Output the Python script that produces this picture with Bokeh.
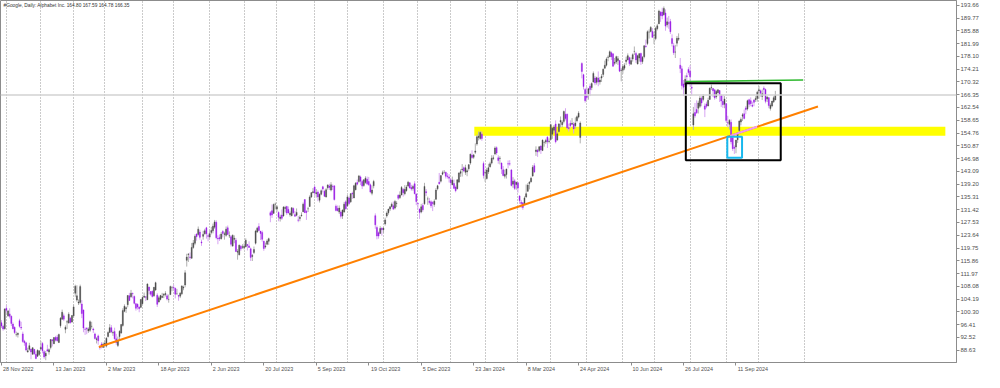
from bokeh.plotting import figure
from bokeh.models import ColumnDataSource, FixedTicker, Range1d, Span, Label, NumeralTickFormatter, LinearAxis
from bokeh.embed import file_html
from bokeh.resources import INLINE

# ---------------- data (daily bars, #Google) ----------------
opens = [
    97.0, 95.9, 95.2,  # Nov 22
    101.4, 99.1, 99.7, 99.0, 96.6, 95.6, 93.4, 93.4, 97.6, 95.6, 93.6, 91.4, 90.9, 88.1, 88.9, 89.0, 87.4, 88.9, 87.4, 86.8, 87.3,
    89.0, 90.7, 88.2, 86.9, 88.8, 88.1, 89.5, 91.8, 90.6, 92.5, 92.6, 91.0, 96.1, 98.1, 99.1, 95.0, 97.2, 96.9, 98.4, 97.2,
    99.1, 106.0, 103.9, 103.0, 103.2, 102.7, 100.9, 95.1, 95.3, 94.5, 94.7, 95.9, 95.1, 93.6, 91.9, 93.0, 89.8, 90.5, 89.5,
    90.3, 89.9, 92.8, 94.0, 95.5, 93.9, 94.3, 92.1, 90.1, 92.8, 93.9, 96.2, 100.5, 101.3, 102.5, 105.2, 104.9, 105.9, 105.0, 102.8, 102.6, 101.8, 101.7,
    102.8, 104.8, 104.9, 104.0, 107.9, 106.5, 106.6, 105.2, 107.0, 105.4, 103.3, 104.1, 104.7, 105.4, 105.6, 105.2, 104.1, 105.6, 107.7,
    107.7, 107.5, 105.8, 105.3, 105.1, 105.8, 107.6, 108.5, 116.0, 117.8, 117.0, 116.6, 119.9, 121.2, 124.0, 123.9, 124.6, 121.6, 123.3, 124.1, 125.9, 123.5,
    123.1, 124.5, 125.0, 126.1, 127.6, 122.7, 122.9, 122.6, 124.8, 123.9, 123.6, 125.9, 123.4, 123.2, 120.4, 122.4, 122.1, 118.5, 117.7, 120.3, 120.0,
    119.8, 120.1, 120.8, 120.4, 119.5, 117.2, 118.4, 121.2, 124.6, 126.3, 124.9, 124.5, 121.8, 120.1, 120.9, 121.8, 130.5, 131.1, 130.3, 133.1,
    131.6, 130.6, 128.7, 129.8, 129.5, 131.8, 132.4, 131.5, 129.9, 129.6, 131.8, 129.9, 129.7, 128.3, 128.7, 129.6, 130.8, 134.5, 130.9, 131.7, 132.4, 135.3, 136.6,
    138.3, 136.3, 136.8, 134.3, 136.1, 138.4, 137.0, 135.3, 138.1, 138.6, 137.4, 138.5, 138.7, 132.5, 131.8, 130.7, 130.7, 129.5, 130.7, 133.8,
    132.6, 135.0, 133.8, 136.4, 135.0, 137.5, 139.7, 140.0, 141.4, 140.0, 138.8, 139.7, 140.7, 140.0, 139.0, 136.4, 138.7, 129.6, 126.0, 124.4, 124.2, 125.8,
    125.3, 127.1, 129.5, 130.5, 131.6, 132.4, 132.6, 131.9, 133.3, 135.8, 135.1, 135.9, 137.6, 136.3, 137.2, 138.6, 139.6, 138.2, 137.9, 139.3, 136.2,
    133.3, 131.6, 130.7, 132.7, 133.2, 136.9, 134.7, 134.0, 133.8, 133.6, 133.0, 134.6, 137.8, 139.8, 140.1, 142.2, 142.8, 142.8, 141.7, 141.4,
    140.5, 139.0, 139.4, 138.3, 137.8, 139.8, 142.5, 143.6, 144.2, 142.8, 142.9, 143.9, 145.6, 148.0, 147.4, 148.9, 151.4, 153.4, 153.1, 154.4, 145.5,
    142.6, 140.9, 143.0, 144.5, 145.6, 147.0, 148.4, 150.3, 147.2, 147.0, 145.6, 143.6, 141.6, 142.1, 145.4, 145.4, 143.5, 139.2, 140.2, 139.1,
    139.6, 135.6, 133.7, 133.5, 133.3, 135.3, 137.0, 139.4, 139.9, 141.7, 144.8, 149.1, 149.5, 149.4, 150.8, 149.4, 151.9, 152.0, 153.5, 152.2,
    152.8, 154.4, 155.6, 157.5, 152.6, 155.2, 158.1, 157.3, 158.3, 160.5, 160.5, 156.4, 157.7, 157.4, 157.5, 157.0, 158.5, 159.6, 153.4, 175.9, 172.5, 168.0,
    166.2, 166.7, 169.0, 168.6, 170.3, 171.5, 170.2, 171.5, 170.3, 171.5, 172.6, 174.5, 175.4, 177.8, 177.9, 179.2, 178.9, 176.0, 176.4, 176.8, 176.8, 173.8,
    173.9, 174.5, 176.5, 177.0, 177.7, 175.7, 177.3, 179.6, 179.0, 175.8, 177.6, 179.0, 176.5, 178.0, 181.2, 182.0, 185.5, 185.7, 185.7,
    184.5, 183.5, 186.5, 188.0, 191.5, 191.6, 190.8, 191.3, 187.7, 188.3, 188.7, 183.5, 181.3, 179.4, 182.1, 183.3, 175.4, 174.3, 169.7, 169.5, 172.2, 174.1,
    173.6, 168.7, 157.2, 161.0, 161.9, 162.3, 162.9, 165.3, 165.0, 163.0, 163.6, 163.0, 165.0, 168.6, 168.3, 167.9, 165.8, 167.0, 167.7, 166.2, 164.4, 163.5,
    163.7, 157.9, 157.4, 158.0, 153.3, 150.4, 150.5, 152.7, 155.5, 158.1, 159.9, 160.6, 162.4, 162.1, 164.9, 164.6, 163.2, 164.8, 164.9, 165.3,
    167.6, 167.6, 165.9, 168.4, 168.0, 165.1, 165.5, 162.2, 163.0, 164.3, 164.80,
]
highs = [
    97.8, 96.4, 101.4,
    102.3, 100.9, 101.4, 99.2, 97.1, 95.9, 94.3, 94.0, 98.2, 97.3, 94.3, 91.8, 91.2, 89.4, 90.9, 89.1, 89.5, 89.0, 88.3, 88.9, 88.5,
    91.4, 91.1, 88.7, 88.4, 90.3, 89.2, 92.0, 92.0, 92.6, 93.0, 93.3, 93.7, 98.7, 101.0, 99.8, 96.2, 97.8, 100.2, 98.7, 99.3,
    102.6, 108.6, 108.4, 104.1, 108.6, 103.9, 101.0, 95.6, 95.7, 95.6, 97.7, 97.3, 95.5, 94.0, 92.6, 93.4, 90.0, 91.1, 91.0,
    91.4, 92.6, 94.4, 96.6, 96.3, 94.6, 95.5, 93.6, 92.8, 94.7, 96.5, 101.4, 102.6, 102.0, 105.4, 106.1, 107.0, 106.2, 105.3, 103.0, 102.9, 101.9, 104.2,
    104.8, 106.2, 105.0, 109.0, 107.9, 106.6, 106.8, 107.9, 109.5, 106.0, 105.2, 105.5, 106.1, 106.0, 106.6, 105.8, 105.6, 108.3, 108.2,
    108.6, 107.7, 107.3, 105.5, 106.3, 108.4, 108.3, 113.0, 118.0, 118.2, 118.4, 121.3, 122.2, 123.9, 124.2, 126.3, 125.3, 122.3, 125.0, 125.6, 126.2, 124.2,
    125.0, 126.2, 127.2, 128.3, 128.2, 123.6, 123.9, 124.6, 125.2, 124.7, 126.3, 126.6, 124.8, 123.7, 123.9, 123.6, 122.8, 119.4, 120.8, 120.7, 120.9,
    121.2, 122.7, 121.0, 121.8, 119.9, 117.9, 120.2, 125.3, 126.2, 127.3, 124.9, 125.1, 122.0, 121.4, 122.4, 122.9, 131.0, 133.0, 133.3, 133.6,
    132.8, 130.9, 129.9, 131.5, 132.5, 132.6, 132.6, 132.4, 130.9, 132.1, 132.1, 131.0, 131.8, 129.5, 129.7, 130.6, 133.6, 134.6, 131.3, 132.3, 135.8, 136.8, 138.0,
    138.8, 137.7, 137.3, 136.4, 137.6, 138.7, 137.5, 138.0, 139.2, 139.3, 139.8, 139.1, 138.7, 133.0, 132.7, 132.7, 131.2, 131.5, 133.8, 134.3,
    135.9, 135.5, 136.5, 136.9, 139.0, 139.8, 140.6, 142.0, 141.8, 140.5, 140.7, 141.6, 141.5, 141.4, 139.4, 138.8, 140.5, 130.3, 126.6, 124.8, 126.4, 126.0,
    126.1, 129.0, 130.9, 131.7, 132.5, 133.6, 133.9, 134.4, 134.0, 136.1, 137.0, 138.6, 138.0, 138.9, 138.9, 140.2, 139.8, 139.0, 139.0, 140.1, 136.4,
    133.6, 131.8, 133.2, 133.4, 139.6, 137.7, 135.4, 135.0, 134.3, 134.0, 134.6, 138.0, 139.0, 142.6, 141.9, 143.3, 143.5, 143.0, 142.6, 142.3,
    141.1, 141.5, 140.6, 138.8, 140.7, 142.8, 143.7, 145.3, 144.6, 145.1, 143.9, 145.3, 148.5, 149.5, 148.4, 151.6, 154.3, 155.2, 155.4, 155.2, 146.1,
    143.3, 144.2, 145.4, 146.0, 148.0, 148.0, 150.7, 150.7, 148.0, 147.7, 145.8, 144.7, 143.6, 143.9, 146.4, 146.5, 143.8, 141.3, 140.8, 139.9,
    139.8, 135.8, 134.4, 133.7, 135.5, 139.1, 139.5, 140.1, 141.5, 145.0, 145.6, 150.7, 149.9, 150.7, 151.0, 152.8, 152.2, 153.0, 153.8, 153.1,
    157.6, 156.6, 157.2, 158.6, 155.0, 157.8, 159.8, 158.6, 161.6, 162.3, 160.7, 157.6, 158.6, 159.3, 158.1, 159.5, 160.1, 161.4, 158.3, 176.3, 172.8, 168.5,
    168.8, 168.5, 169.8, 170.2, 173.5, 172.1, 171.9, 173.5, 171.8, 172.7, 174.4, 176.8, 177.8, 178.4, 179.9, 179.6, 178.9, 177.6, 178.3, 178.2, 176.9, 174.5,
    175.7, 176.0, 178.0, 179.0, 178.0, 177.8, 179.0, 181.1, 179.5, 178.6, 179.1, 179.2, 178.2, 181.5, 183.2, 186.0, 186.3, 187.3, 186.7,
    185.6, 187.1, 188.0, 192.3, 191.9, 192.9, 193.3, 192.4, 189.9, 190.4, 189.5, 184.8, 182.2, 181.6, 184.3, 185.1, 177.6, 175.2, 170.9, 172.3, 173.1, 174.8,
    175.4, 170.0, 162.7, 163.9, 164.7, 164.6, 166.0, 165.9, 166.6, 163.8, 164.3, 165.5, 168.6, 169.5, 168.5, 168.0, 167.9, 168.1, 167.8, 166.5, 166.4, 166.0,
    163.9, 160.0, 159.0, 158.9, 153.8, 151.0, 152.7, 155.0, 158.6, 159.5, 160.8, 161.9, 163.0, 164.9, 165.2, 165.6, 164.3, 165.1, 166.0, 167.6,
    169.1, 168.0, 168.0, 169.0, 168.3, 166.0, 165.7, 163.8, 164.5, 166.0, 167.59,
]
lows = [
    95.4, 94.6, 94.9,
    100.0, 98.8, 98.3, 96.0, 95.0, 93.6, 92.8, 92.5, 95.5, 94.8, 90.9, 90.0, 88.3, 87.9, 88.5, 85.9, 87.3, 87.2, 85.9, 86.6, 86.9,
    88.7, 87.7, 86.0, 85.6, 88.2, 87.3, 88.9, 89.8, 90.5, 91.3, 91.3, 90.8, 95.5, 97.9, 97.5, 93.8, 95.1, 96.8, 96.7, 97.1,
    98.5, 104.9, 103.4, 102.4, 102.6, 98.4, 94.1, 93.3, 93.5, 93.9, 94.2, 95.2, 93.9, 91.9, 90.7, 90.3, 88.8, 89.2, 89.4,
    89.6, 89.5, 92.5, 94.0, 93.8, 93.0, 91.9, 90.3, 89.6, 91.9, 93.6, 95.8, 100.2, 100.0, 101.7, 103.6, 104.6, 104.4, 102.6, 100.7, 101.0, 100.2, 101.5,
    102.5, 104.5, 103.6, 103.9, 105.6, 105.2, 104.7, 104.9, 106.7, 101.8, 103.2, 103.8, 104.5, 104.5, 105.0, 103.8, 103.1, 105.4, 106.6,
    107.0, 104.4, 105.6, 103.7, 104.5, 105.5, 106.9, 107.8, 114.1, 115.5, 116.2, 116.6, 119.5, 120.6, 122.0, 123.5, 122.3, 120.4, 122.3, 123.8, 122.6, 121.8,
    122.7, 123.9, 124.2, 125.6, 122.4, 120.9, 121.9, 122.3, 123.0, 122.3, 123.2, 123.8, 122.8, 120.2, 120.1, 121.2, 118.5, 116.2, 117.5, 118.9, 119.5,
    119.3, 120.0, 119.0, 119.8, 115.8, 115.8, 117.9, 120.8, 124.4, 124.9, 122.2, 121.7, 118.9, 119.6, 120.6, 120.7, 127.6, 128.9, 130.2, 131.5,
    130.8, 127.9, 127.8, 128.3, 129.3, 130.6, 129.8, 130.3, 129.3, 129.4, 130.0, 129.3, 129.4, 127.6, 127.9, 129.3, 130.7, 130.4, 128.3, 130.7, 132.3, 135.0, 136.4,
    135.6, 135.1, 134.0, 133.6, 135.8, 136.7, 135.3, 135.1, 137.5, 137.4, 137.0, 137.4, 134.2, 130.9, 130.9, 130.1, 128.7, 128.6, 130.5, 131.4,
    132.3, 132.8, 133.5, 134.7, 134.9, 137.3, 138.8, 139.6, 138.9, 137.7, 138.4, 139.3, 138.9, 138.7, 136.4, 135.8, 137.9, 125.6, 122.4, 122.6, 124.0, 123.5,
    124.3, 126.6, 129.0, 129.9, 131.0, 132.1, 131.3, 131.5, 132.2, 134.4, 134.7, 135.8, 135.4, 135.8, 136.9, 138.4, 137.9, 137.2, 137.2, 136.1, 132.8,
    131.7, 128.6, 130.3, 130.8, 132.9, 135.6, 132.9, 133.0, 131.9, 131.0, 132.3, 134.4, 137.3, 139.1, 139.7, 141.9, 142.4, 140.9, 140.9, 139.7,
    137.7, 138.9, 137.9, 136.7, 137.6, 139.8, 141.4, 141.5, 142.8, 142.0, 141.6, 143.3, 145.1, 146.9, 146.9, 148.4, 150.9, 152.5, 152.7, 152.4, 140.9,
    139.9, 140.6, 142.3, 144.2, 145.2, 146.5, 148.0, 148.1, 145.4, 145.2, 142.3, 141.6, 140.9, 140.9, 144.0, 144.8, 138.5, 138.1, 137.4, 137.5,
    136.6, 133.2, 131.9, 131.4, 132.9, 135.0, 136.9, 137.6, 139.7, 141.4, 142.6, 147.8, 147.5, 148.9, 148.4, 149.3, 150.6, 151.4, 150.2, 151.6,
    152.6, 153.0, 154.8, 151.6, 152.5, 154.9, 156.4, 156.5, 157.7, 158.6, 155.8, 155.2, 156.3, 157.3, 154.6, 156.1, 158.0, 159.2, 151.6, 171.4, 168.0, 164.0,
    164.8, 164.9, 166.0, 167.8, 170.1, 169.3, 169.5, 169.0, 169.5, 170.3, 171.8, 174.3, 175.0, 176.6, 177.9, 177.0, 174.9, 175.4, 175.8, 175.5, 173.3, 170.5,
    172.8, 173.9, 175.5, 176.9, 175.2, 175.6, 176.5, 178.5, 176.1, 175.6, 176.5, 175.5, 175.8, 177.5, 180.8, 181.5, 183.5, 185.4, 183.7,
    181.8, 183.0, 186.0, 187.9, 188.6, 189.4, 190.5, 185.9, 186.9, 186.5, 184.9, 181.1, 178.5, 177.6, 181.1, 182.8, 173.0, 168.0, 166.0, 168.8, 169.0, 172.5,
    168.9, 166.2, 155.7, 159.4, 160.6, 160.7, 162.4, 162.9, 164.4, 159.6, 162.3, 162.9, 164.8, 167.9, 165.7, 164.9, 165.2, 166.9, 164.2, 162.7, 162.4, 162.3,
    158.0, 156.5, 155.8, 151.3, 149.3, 148.4, 148.6, 151.7, 155.1, 157.1, 158.4, 158.9, 160.5, 161.6, 162.6, 162.9, 162.6, 162.9, 164.2, 164.3,
    165.2, 165.8, 164.8, 166.3, 163.8, 164.2, 162.3, 161.6, 162.6, 163.9, 164.78,
]
closes = [
    96.0, 95.1, 101.2,
    100.8, 100.6, 99.0, 96.8, 95.2, 94.0, 93.4, 93.8, 95.9, 95.4, 91.3, 90.9, 88.7, 88.5, 90.0, 88.1, 89.4, 87.6, 86.1, 88.6, 88.5,
    89.5, 88.5, 86.6, 87.7, 88.4, 88.8, 91.9, 91.5, 92.5, 91.7, 91.5, 93.4, 98.4, 100.2, 98.1, 95.6, 97.3, 99.6, 97.1, 99.2,
    101.8, 108.1, 105.2, 103.3, 108.0, 99.8, 95.4, 95.0, 95.1, 95.1, 97.3, 95.9, 94.8, 92.2, 92.1, 91.5, 89.4, 89.8, 90.5,
    90.8, 92.3, 94.0, 95.5, 94.2, 94.0, 92.1, 91.0, 91.5, 94.4, 96.5, 100.7, 102.0, 101.6, 105.3, 103.8, 106.0, 105.8, 102.9, 101.4, 101.8, 101.3, 104.1,
    104.7, 105.1, 104.8, 108.8, 106.8, 105.7, 105.0, 107.8, 109.2, 102.6, 104.6, 105.3, 105.1, 105.7, 105.9, 104.2, 104.1, 108.0, 107.7,
    107.6, 105.7, 105.8, 105.1, 106.0, 108.2, 107.8, 112.2, 117.0, 117.9, 116.9, 119.9, 121.3, 123.3, 123.2, 125.5, 123.0, 121.3, 123.9, 125.0, 124.1, 123.3,
    124.1, 125.1, 126.4, 127.7, 122.9, 122.5, 122.6, 124.0, 124.2, 124.1, 125.5, 123.9, 123.5, 120.9, 123.6, 122.7, 118.7, 118.7, 120.6, 119.5, 120.1,
    120.3, 122.1, 120.5, 119.9, 116.9, 117.5, 119.3, 124.9, 125.8, 125.1, 124.2, 122.4, 119.6, 120.4, 121.9, 122.6, 129.7, 129.8, 133.0, 133.1,
    132.3, 129.1, 129.2, 128.8, 132.2, 132.1, 130.4, 130.4, 130.3, 132.0, 130.5, 129.4, 130.6, 128.2, 129.1, 129.8, 133.1, 130.5, 130.6, 131.7, 135.3, 136.6, 136.9,
    136.5, 136.6, 135.3, 136.1, 137.2, 137.7, 135.5, 137.5, 138.9, 138.2, 139.0, 138.4, 134.5, 131.2, 131.1, 131.9, 129.4, 131.3, 133.1, 131.7,
    135.3, 133.3, 136.3, 136.2, 138.7, 139.5, 139.2, 141.7, 140.1, 138.6, 140.5, 141.0, 139.3, 139.0, 136.8, 137.4, 140.0, 126.8, 123.4, 123.4, 125.7, 125.3,
    125.8, 128.3, 130.4, 131.6, 132.3, 133.1, 131.6, 133.9, 133.4, 134.9, 135.9, 138.2, 136.6, 137.6, 138.3, 139.8, 138.0, 137.7, 138.5, 136.3, 133.9,
    133.2, 130.6, 132.3, 131.4, 138.5, 136.6, 134.7, 133.6, 132.6, 133.3, 134.0, 137.4, 138.7, 139.3, 141.8, 142.7, 142.8, 141.6, 141.5, 141.0,
    139.6, 140.4, 137.9, 137.2, 140.5, 142.6, 143.0, 143.8, 143.2, 144.2, 143.3, 145.1, 148.3, 147.3, 148.1, 149.3, 153.6, 153.8, 154.9, 153.1, 141.8,
    142.7, 143.5, 144.2, 145.4, 147.1, 147.2, 150.2, 148.7, 146.4, 147.1, 143.8, 141.8, 142.2, 143.8, 145.3, 145.3, 138.8, 140.1, 137.9, 139.8,
    138.0, 134.2, 133.3, 132.1, 135.0, 136.3, 138.9, 139.8, 141.0, 144.3, 142.9, 149.6, 149.0, 150.6, 149.6, 152.6, 151.9, 152.5, 152.1, 152.3,
    157.3, 156.2, 156.6, 152.1, 154.5, 157.5, 158.6, 158.0, 161.3, 159.2, 156.3, 156.1, 157.0, 157.7, 156.0, 157.8, 159.7, 160.8, 157.8, 173.5, 168.9, 164.6,
    165.6, 168.2, 168.0, 169.8, 172.9, 170.0, 171.6, 170.3, 170.9, 172.0, 174.2, 175.4, 177.3, 177.9, 179.5, 178.0, 175.1, 176.3, 178.0, 177.4, 173.6, 173.9,
    175.0, 175.3, 177.0, 178.3, 175.9, 176.8, 178.6, 179.6, 177.0, 178.3, 178.9, 176.5, 177.8, 181.3, 181.0, 185.6, 185.5, 186.9, 183.9,
    184.5, 186.6, 187.4, 191.9, 190.5, 190.4, 192.7, 187.3, 188.6, 188.2, 185.6, 182.0, 179.2, 179.4, 183.6, 183.6, 174.4, 169.2, 168.7, 171.1, 171.9, 173.2,
    171.9, 168.4, 160.6, 160.0, 160.9, 163.9, 165.4, 163.9, 166.0, 162.0, 162.9, 164.7, 168.4, 168.7, 167.6, 165.5, 167.4, 167.9, 166.4, 164.5, 163.4, 165.1,
    158.6, 157.8, 158.6, 152.1, 150.0, 150.1, 152.6, 154.8, 158.4, 158.9, 160.3, 159.2, 161.9, 164.6, 163.5, 163.7, 162.9, 164.1, 165.3, 167.2,
    167.9, 166.9, 166.7, 168.0, 164.4, 165.7, 163.1, 163.2, 164.5, 165.5, 166.35,
]

# time axis: bar index of each date label, and of each month's first bar (grid)
date_tick_idx = [0, 32, 64, 96, 128, 160, 192, 224, 256, 288, 320, 352, 384, 416, 448]
date_tick_labels = ["28 Nov 2022", "13 Jan 2023", "2 Mar 2023", "18 Apr 2023", "2 Jun 2023",
                    "20 Jul 2023", "5 Sep 2023", "19 Oct 2023", "5 Dec 2023", "23 Jan 2024",
                    "8 Mar 2024", "24 Apr 2024", "10 Jun 2024", "26 Jul 2024", "11 Sep 2024"]
month_start_idx = [3, 24, 44, 63, 86, 105, 127, 148, 168, 191, 211, 233, 254, 274, 295,
                   315, 335, 357, 379, 398, 420, 442, 462, 489.5]
price_ticks = [193.66, 189.77, 185.88, 181.99, 178.10, 174.21, 170.32, 162.54, 158.65,
               154.76, 150.87, 146.98, 143.09, 139.20, 135.31, 131.42, 127.53, 123.64,
               119.75, 115.86, 111.97, 108.08, 104.19, 100.30, 96.41, 92.52, 88.63]
last_price = 166.35
title_text = "#Google, Daily:  Alphabet Inc.  164.80 167.59 164.78 166.35"

# chart objects drawn by the analyst (bar index, price)
trend_x = [59.4, 498.0]
trend_y = [89.6, 162.85]
zone_x = [288.4, 575.7]
zone_y = [153.9, 156.66]
res_x = [417.4, 489.0]
res_y = [170.4, 170.9]
box_x = [417.4, 475.3]
box_y = [146.5, 169.9]
low_box_x = [442.7, 451.7]
low_box_y = [147.2, 153.63]

# ---------------- figure ----------------
n = min(len(opens), len(highs), len(lows), len(closes))
X0, X1 = -0.6, 582.5
Y0, Y1 = 84.9, 195.1
FW, FH = 956, 362

p = figure(frame_width=FW, frame_height=FH, x_range=Range1d(X0, X1), y_range=Range1d(Y0, Y1),
           output_backend="svg", toolbar_location=None, y_axis_location="right",
           min_border_left=0, min_border_top=0, min_border_right=28, min_border_bottom=0)
p.background_fill_color = "white"
p.border_fill_color = "white"
p.outline_line_color = "#8c8c8c"
p.outline_line_width = 1

FONT = "Liberation Sans"
AXIS_TXT = "#505050"

# grid: dotted vertical month lines only
p.ygrid.visible = False
p.xgrid.ticker = FixedTicker(ticks=month_start_idx)
p.xgrid.grid_line_color = "#969696"
p.xgrid.grid_line_dash = "1 2"
p.xgrid.grid_line_width = 1

# x axis: tick marks at the label dates
xa = p.xaxis[0]
xa.ticker = FixedTicker(ticks=date_tick_idx)
xa.major_label_overrides = {i: "" for i in date_tick_idx}
xa.major_label_text_font_size = "0px"
xa.major_label_standoff = 0
xa.major_tick_out = 3
xa.major_tick_in = 0
xa.minor_tick_line_color = None
xa.axis_line_color = "#8c8c8c"
xa.major_tick_line_color = "#8c8c8c"

# second x axis carrying the date texts, placed so each text starts at its tick
CHAR_W = {" ": 0.278, ".": 0.278, "N": 0.722, "o": 0.556, "v": 0.5, "J": 0.5, "a": 0.556,
          "n": 0.556, "M": 0.833, "r": 0.333, "A": 0.667, "p": 0.556, "u": 0.556, "l": 0.222,
          "S": 0.667, "e": 0.556, "O": 0.778, "c": 0.5, "D": 0.722}
LBL_PX = 5.4
px_per_unit = FW / (X1 - X0)
label_pos = []
for i, t in zip(date_tick_idx, date_tick_labels):
    w = sum(CHAR_W.get(ch, 0.556) for ch in t) * LBL_PX
    label_pos.append(round(i + (w / 2 + 1.5) / px_per_unit, 3))
xb = LinearAxis(ticker=FixedTicker(ticks=label_pos),
                major_label_overrides={pos: t for pos, t in zip(label_pos, date_tick_labels)})
xb.major_label_text_font_size = f"{LBL_PX}px"
xb.major_label_text_font = FONT
xb.major_label_text_color = AXIS_TXT
xb.major_label_standoff = 0
xb.major_tick_out = 0
xb.major_tick_in = 0
xb.major_tick_line_color = None
xb.minor_tick_line_color = None
xb.axis_line_color = None
p.add_layout(xb, "below")

# right price axis (last price included)
p.yaxis.ticker = FixedTicker(ticks=sorted(price_ticks + [last_price]))
p.yaxis.formatter = NumeralTickFormatter(format="0.00")
p.yaxis.major_label_text_font_size = "6px"
p.yaxis.major_label_text_font = FONT
p.yaxis.major_label_text_color = AXIS_TXT
p.yaxis.major_label_standoff = 1
p.yaxis.major_tick_out = 3
p.yaxis.major_tick_in = 0
p.yaxis.minor_tick_line_color = None
p.yaxis.axis_line_color = "#8c8c8c"
p.yaxis.major_tick_line_color = "#8c8c8c"

# support zone (yellow)
p.quad(left=[zone_x[0]], right=[zone_x[1]], bottom=[zone_y[0]], top=[zone_y[1]],
       fill_color="#FFFF00", line_color=None)

# last price line
p.add_layout(Span(location=last_price, dimension="width", line_color="#d2d2d2", line_width=1.5))

# candles
xs = list(range(n))
bull = [closes[i] >= opens[i] for i in range(n)]
src = ColumnDataSource(dict(
    x=xs,
    high=highs[:n], low=lows[:n],
    top=[max(opens[i], closes[i]) for i in range(n)],
    bottom=[min(opens[i], closes[i]) for i in range(n)],
    body=["#4a4a4a" if b else "#9a1de6" for b in bull],
    wick=["#b0b0b0" if b else "#d7a4f3" for b in bull],
))
p.segment(x0="x", y0="low", x1="x", y1="high", line_color="wick", line_width=1, source=src)
p.vbar(x="x", width=0.62, top="top", bottom="bottom", fill_color="body", line_color="body",
       line_width=0.4, source=src)

# trend line (orange), pink where it crosses the yellow zone
p.line(trend_x, trend_y, line_color="#FF8000", line_width=2)
slope = (trend_y[1] - trend_y[0]) / (trend_x[1] - trend_x[0])
zx0 = trend_x[0] + (zone_y[0] - trend_y[0]) / slope
zx1 = trend_x[0] + (zone_y[1] - trend_y[0]) / slope
p.line([zx0, zx1], [zone_y[0], zone_y[1]], line_color="#F09AF0", line_width=2)

# resistance line (green)
p.line(res_x, res_y, line_color="#2DB82D", line_width=1.6)

# consolidation box (black) and low box (cyan)
p.quad(left=[box_x[0]], right=[box_x[1]], bottom=[box_y[0]], top=[box_y[1]],
       fill_alpha=0, line_color="black", line_width=2)
p.quad(left=[low_box_x[0]], right=[low_box_x[1]], bottom=[low_box_y[0]], top=[low_box_y[1]],
       fill_alpha=0, line_color="#17B8EE", line_width=2)

# chart title
p.add_layout(Label(x=X0, y=Y1, x_offset=3, y_offset=-2, text=title_text, text_align="left",
                   text_baseline="top", text_font_size="4.8px", text_font=FONT,
                   text_color="#333333"))

open("out.html", "w").write(file_html(p, INLINE))
